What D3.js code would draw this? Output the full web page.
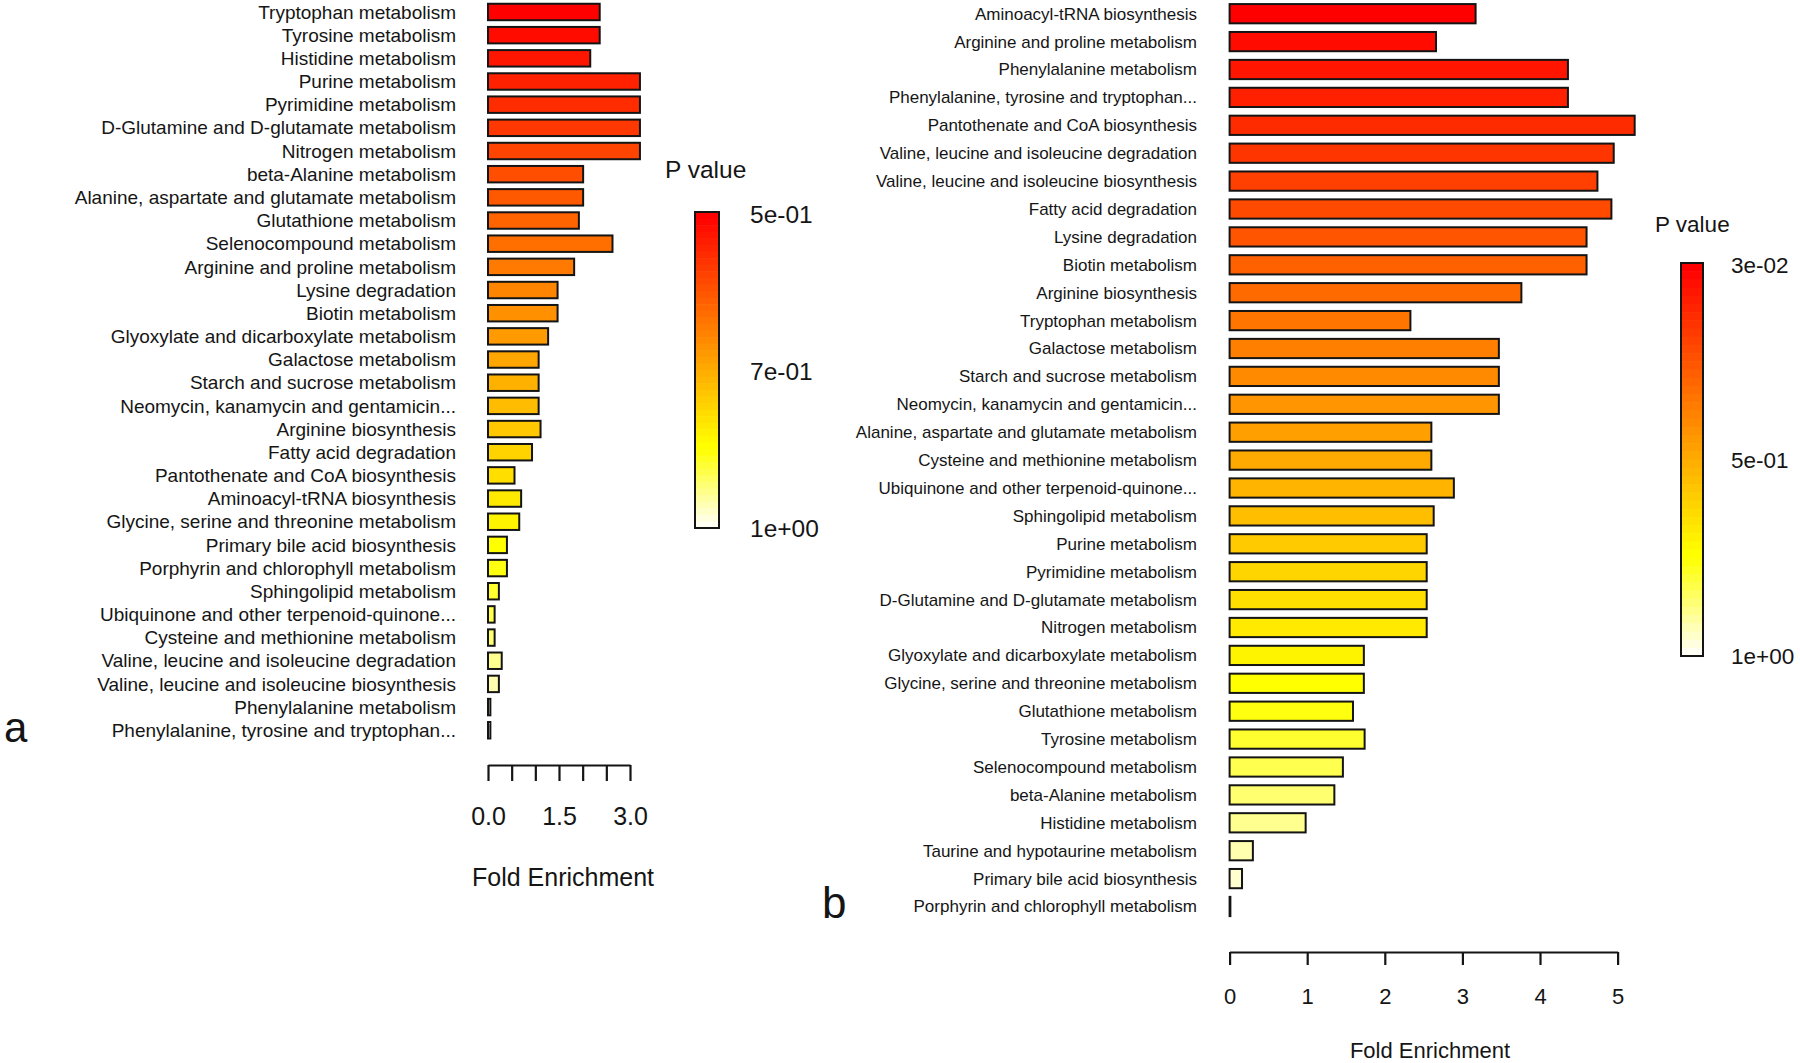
<!DOCTYPE html>
<html><head><meta charset="utf-8">
<script src="https://cdn.jsdelivr.net/npm/d3@7"></script>
<style>
body{margin:0;background:#fff}
svg{display:block}
text{font-family:"Liberation Sans", Arial, sans-serif; fill:#151515}
</style>
</head><body>
<svg id="chart" width="1800" height="1063"></svg>
<script>
// ---------- Panel a data ----------
const pathwaysA = [
  "Tryptophan metabolism","Tyrosine metabolism","Histidine metabolism","Purine metabolism",
  "Pyrimidine metabolism","D-Glutamine and D-glutamate metabolism","Nitrogen metabolism",
  "beta-Alanine metabolism","Alanine, aspartate and glutamate metabolism","Glutathione metabolism",
  "Selenocompound metabolism","Arginine and proline metabolism","Lysine degradation","Biotin metabolism",
  "Glyoxylate and dicarboxylate metabolism","Galactose metabolism","Starch and sucrose metabolism",
  "Neomycin, kanamycin and gentamicin...","Arginine biosynthesis","Fatty acid degradation",
  "Pantothenate and CoA biosynthesis","Aminoacyl-tRNA biosynthesis","Glycine, serine and threonine metabolism",
  "Primary bile acid biosynthesis","Porphyrin and chlorophyll metabolism","Sphingolipid metabolism",
  "Ubiquinone and other terpenoid-quinone...","Cysteine and methionine metabolism",
  "Valine, leucine and isoleucine degradation","Valine, leucine and isoleucine biosynthesis",
  "Phenylalanine metabolism","Phenylalanine, tyrosine and tryptophan..."
];
const foldA = [2.36,2.36,2.16,3.21,3.21,3.21,3.21,2.01,2.01,1.92,2.63,1.82,1.47,1.47,1.27,1.07,1.07,1.07,1.11,0.93,0.56,0.70,0.66,0.40,0.40,0.23,0.14,0.14,0.29,0.23,0.05,0.05];
const ticksA = [0,0.5,1,1.5,2,2.5,3];
const tickLabelsA = ["0.0","","","1.5","","","3.0"];
const legendLabelsA = ["5e-01","7e-01","1e+00"];

// ---------- Panel b data ----------
const pathwaysB = [
  "Aminoacyl-tRNA biosynthesis","Arginine and proline metabolism","Phenylalanine metabolism",
  "Phenylalanine, tyrosine and tryptophan...","Pantothenate and CoA biosynthesis",
  "Valine, leucine and isoleucine degradation","Valine, leucine and isoleucine biosynthesis",
  "Fatty acid degradation","Lysine degradation","Biotin metabolism","Arginine biosynthesis",
  "Tryptophan metabolism","Galactose metabolism","Starch and sucrose metabolism",
  "Neomycin, kanamycin and gentamicin...","Alanine, aspartate and glutamate metabolism",
  "Cysteine and methionine metabolism","Ubiquinone and other terpenoid-quinone...",
  "Sphingolipid metabolism","Purine metabolism","Pyrimidine metabolism",
  "D-Glutamine and D-glutamate metabolism","Nitrogen metabolism","Glyoxylate and dicarboxylate metabolism",
  "Glycine, serine and threonine metabolism","Glutathione metabolism","Tyrosine metabolism",
  "Selenocompound metabolism","beta-Alanine metabolism","Histidine metabolism",
  "Taurine and hypotaurine metabolism","Primary bile acid biosynthesis","Porphyrin and chlorophyll metabolism"
];
const foldB = [3.17,2.66,4.36,4.36,5.22,4.95,4.74,4.92,4.60,4.60,3.76,2.33,3.47,3.47,3.47,2.60,2.60,2.89,2.63,2.54,2.54,2.54,2.54,1.73,1.73,1.59,1.74,1.46,1.35,0.98,0.30,0.16,0.01];
const ticksB = [0,1,2,3,4,5];
const tickLabelsB = ["0","1","2","3","4","5"];
const legendLabelsB = ["3e-02","5e-01","1e+00"];

// R-style heat.colors(n)
function heatColors(n){
  const j = Math.floor(n/4), i = n - j, out = [];
  for(let k=0;k<i;k++){
    const h = i>1 ? k/(i-1) : 0;
    out.push(d3.rgb(255, Math.round(255*h), 0).formatHex());
  }
  for(let k=0;k<j;k++){
    const s0 = 1-1/(2*j), s1 = 1/(2*j);
    const s = j>1 ? s0 + (s1-s0)*k/(j-1) : s0;
    out.push(d3.rgb(255,255,Math.round(255*(1-s))).formatHex());
  }
  return out;
}

const svg = d3.select("#chart");

function panel(cfg){
  const g = svg.append("g");
  const x = d3.scaleLinear().domain(cfg.domain).range(cfg.xRange);
  const y = d3.scaleBand().domain(cfg.cats).range(cfg.yRange)
              .paddingInner(cfg.pad).paddingOuter(cfg.pad/2);
  const color = d3.scaleOrdinal().domain(cfg.cats).range(heatColors(cfg.cats.length));
  const data = cfg.cats.map((c,i)=>({c, v:cfg.vals[i]}));

  g.selectAll("rect.bar").data(data).join("rect").attr("class","bar")
    .attr("x", x(0)).attr("y", d=>y(d.c))
    .attr("width", d=>Math.max(0, x(d.v)-x(0))).attr("height", y.bandwidth())
    .attr("fill", d=>color(d.c)).attr("stroke","#141414").attr("stroke-width",2);

  g.selectAll("text.lab").data(data).join("text").attr("class","lab")
    .attr("x", cfg.labelX).attr("y", d=>y(d.c)+y.bandwidth()/2).attr("dy","0.35em")
    .attr("text-anchor","end").style("font-size", cfg.labelSize+"px").text(d=>d.c);

  const axis = d3.axisBottom(x).tickValues(cfg.ticks)
      .tickFormat((d,i)=>cfg.tickLabels[i]).tickSize(cfg.tickLen).tickSizeOuter(0);
  const ag = g.append("g").attr("transform",`translate(0,${cfg.axisY})`).call(axis);
  ag.select(".domain").attr("stroke","#141414").attr("stroke-width",2.2);
  ag.selectAll(".tick line").attr("stroke","#141414").attr("stroke-width",2.2);
  ag.selectAll(".tick text").attr("y", cfg.tickLabelOffset).attr("dy","0.35em")
    .style("font-size", cfg.tickSize+"px").style("font-family",'"Liberation Sans", Arial, sans-serif')
    .attr("fill","#151515");

  g.append("text").attr("x", cfg.titleX).attr("y", cfg.titleY).attr("dy","0.35em")
    .attr("text-anchor","middle").style("font-size", cfg.titleSize+"px").text("Fold Enrichment");

  // legend colour bar
  const nSteps = 48;
  const lc = heatColors(nSteps);
  const ly = d3.scaleBand().domain(d3.range(nSteps)).range([cfg.legY, cfg.legY+cfg.legH]);
  g.selectAll("rect.leg").data(lc).join("rect").attr("class","leg")
    .attr("x", cfg.legX).attr("y",(d,i)=>ly(i)).attr("width",cfg.legW).attr("height",ly.bandwidth()+0.6)
    .attr("fill",d=>d);
  g.append("rect").attr("x",cfg.legX).attr("y",cfg.legY).attr("width",cfg.legW).attr("height",cfg.legH)
    .attr("fill","none").attr("stroke","#141414").attr("stroke-width",2);
  const lpos = d3.scaleLinear().domain([0, cfg.legLabels.length-1]).range([cfg.legY+2, cfg.legY+cfg.legH]);
  g.selectAll("text.legl").data(cfg.legLabels).join("text").attr("class","legl")
    .attr("x", cfg.legLabelX).attr("y",(d,i)=>lpos(i)).attr("dy","0.35em")
    .style("font-size", cfg.legSize+"px").text(d=>d);
  g.append("text").attr("x", cfg.legTitleX).attr("y", cfg.legTitleY).attr("dy","0.35em")
    .style("font-size", cfg.legSize+"px").text("P value");

  g.append("text").attr("x", cfg.letterX).attr("y", cfg.letterY)
    .style("font-size", cfg.letterSize+"px").text(cfg.letter);
}

panel({
  cats: pathwaysA, vals: foldA, domain:[0,3], xRange:[488, 630],
  yRange:[0.4, 0.4+32*23.17], pad:0.29, labelX:456, labelSize:19,
  ticks:ticksA, tickLabels:tickLabelsA, tickLen:16, axisY:765, tickLabelOffset:51, tickSize:25,
  titleX:563, titleY:877, titleSize:25,
  legX:695, legY:212, legW:24, legH:316, legLabels:legendLabelsA, legLabelX:750, legSize:24.5,
  legTitleX:665, legTitleY:169, letter:"a", letterX:4, letterY:742, letterSize:42
});

panel({
  cats: pathwaysB, vals: foldB, domain:[0,5], xRange:[1229.6, 1617.6],
  yRange:[-0.25, -0.25+33*27.9], pad:0.31, labelX:1197, labelSize:17,
  ticks:ticksB, tickLabels:tickLabelsB, tickLen:13, axisY:952, tickLabelOffset:44, tickSize:22,
  titleX:1430, titleY:1050, titleSize:22,
  legX:1681, legY:263, legW:22, legH:393, legLabels:legendLabelsB, legLabelX:1731, legSize:22.5,
  legTitleX:1655, legTitleY:224, letter:"b", letterX:822, letterY:918, letterSize:44
});
</script>
</body></html>
